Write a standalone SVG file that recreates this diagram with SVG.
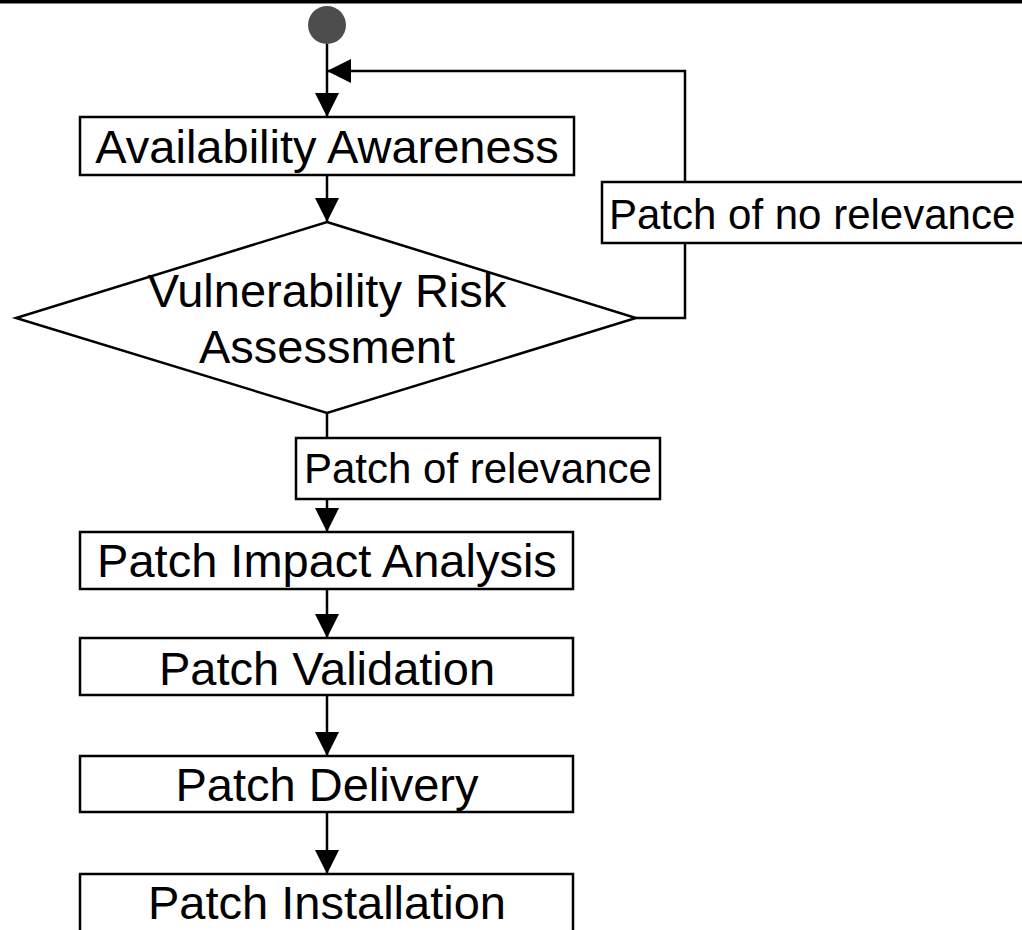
<svg xmlns="http://www.w3.org/2000/svg" width="1022" height="930" viewBox="0 0 1022 930">
  <style>
    .box { fill: #ffffff; stroke: #000000; stroke-width: 2.5; }
    .node-text { font-family: "Liberation Sans", Arial, sans-serif; font-size: 47px; fill: #000000; text-anchor: middle; }
    .label-text { font-family: "Liberation Sans", Arial, sans-serif; font-size: 42px; fill: #000000; }
    .edge { fill: none; stroke: #000000; stroke-width: 2.5; }
  </style>
  <defs>
    <marker id="arrow" markerUnits="userSpaceOnUse" markerWidth="24" markerHeight="24" viewBox="0 0 22 22" refX="22" refY="11" orient="auto">
      <path d="M0,0 L22,11 L0,22 Z" fill="#000000"/>
    </marker>
  </defs>

  <rect width="1022" height="930" fill="#ffffff"/>
  <rect x="0" y="0" width="1022" height="3.5" fill="#000000"/>

  <g id="connectors">
    <path class="edge" d="M327,44 L327,117" marker-end="url(#arrow)"/>
    <path class="edge" d="M636,318 L685,318 L685,71 L327,71" marker-end="url(#arrow)"/>
    <path class="edge" d="M327,175 L327,222" marker-end="url(#arrow)"/>
    <path class="edge" d="M327,413 L327,532" marker-end="url(#arrow)"/>
    <path class="edge" d="M327,589 L327,638" marker-end="url(#arrow)"/>
    <path class="edge" d="M327,695 L327,756" marker-end="url(#arrow)"/>
    <path class="edge" d="M327,812 L327,874" marker-end="url(#arrow)"/>
  </g>

  <g id="start">
    <circle cx="327" cy="25" r="19" fill="#4d4d4d"/>
  </g>

  <g id="availability-awareness">
    <rect class="box" x="80" y="117" width="494" height="58"/>
    <text class="node-text" x="327" y="163">Availability Awareness</text>
  </g>

  <g id="vulnerability-risk-assessment">
    <polygon class="box" points="327,222 636,318 327,413 16,318"/>
    <text class="node-text" x="327" y="307">Vulnerability Risk</text>
    <text class="node-text" x="327" y="363">Assessment</text>
  </g>

  <g id="label-no-relevance">
    <rect class="box" x="602" y="182" width="430" height="61"/>
    <text class="label-text" x="609" y="229">Patch of no relevance</text>
  </g>

  <g id="label-relevance">
    <rect class="box" x="296" y="438" width="364" height="61"/>
    <text class="label-text" x="304" y="483">Patch of relevance</text>
  </g>

  <g id="patch-impact-analysis">
    <rect class="box" x="80" y="532" width="493" height="57"/>
    <text class="node-text" x="327" y="577">Patch Impact Analysis</text>
  </g>

  <g id="patch-validation">
    <rect class="box" x="80" y="638" width="493" height="57"/>
    <text class="node-text" x="327" y="685">Patch Validation</text>
  </g>

  <g id="patch-delivery">
    <rect class="box" x="80" y="756" width="493" height="56"/>
    <text class="node-text" x="327" y="801">Patch Delivery</text>
  </g>

  <g id="patch-installation">
    <rect class="box" x="80" y="874" width="493" height="60"/>
    <text class="node-text" x="327" y="919">Patch Installation</text>
  </g>
</svg>
